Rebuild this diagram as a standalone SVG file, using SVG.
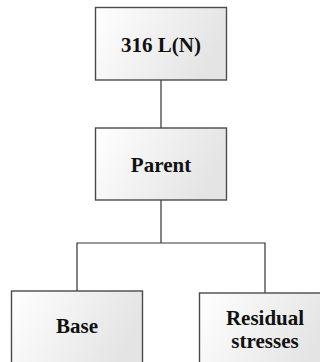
<svg xmlns="http://www.w3.org/2000/svg" width="320" height="362" viewBox="0 0 320 362">
  <defs>
    <linearGradient id="boxFill" x1="0" y1="0" x2="1" y2="0.3">
      <stop offset="0" stop-color="#ffffff"/>
      <stop offset="1" stop-color="#e4e4e4"/>
    </linearGradient>
    <style>
      .box { fill: url(#boxFill); stroke: #4a4a4a; stroke-width: 1.4; }
      .label { font-family: "Liberation Serif", "Times New Roman", serif; font-weight: bold; font-size: 21px; fill: #111; text-anchor: middle; }
      .wire { fill: none; stroke: #333; stroke-width: 1.2; }
    </style>
  </defs>

  <!-- tree connectors -->
  <g id="connectors">
    <path class="wire" d="M161,80 V128"/>
    <path class="wire" d="M161,200 V243"/>
    <path class="wire" d="M77,291 V243 H265 V293"/>
  </g>

  <g id="node-316LN">
    <rect class="box" x="95.5" y="7.5" width="131" height="72.5"/>
    <text class="label" x="161" y="52">316 L(N)</text>
  </g>

  <g id="node-parent">
    <rect class="box" x="95.5" y="128" width="131" height="72"/>
    <text class="label" x="161" y="172">Parent</text>
  </g>

  <g id="node-base">
    <rect class="box" x="11.5" y="291" width="131" height="75"/>
    <text class="label" x="77" y="333">Base</text>
  </g>

  <g id="node-residual">
    <rect class="box" x="199.5" y="293" width="131" height="75"/>
    <text class="label" x="265" y="325">Residual</text>
    <text class="label" x="265" y="348">stresses</text>
  </g>
</svg>
